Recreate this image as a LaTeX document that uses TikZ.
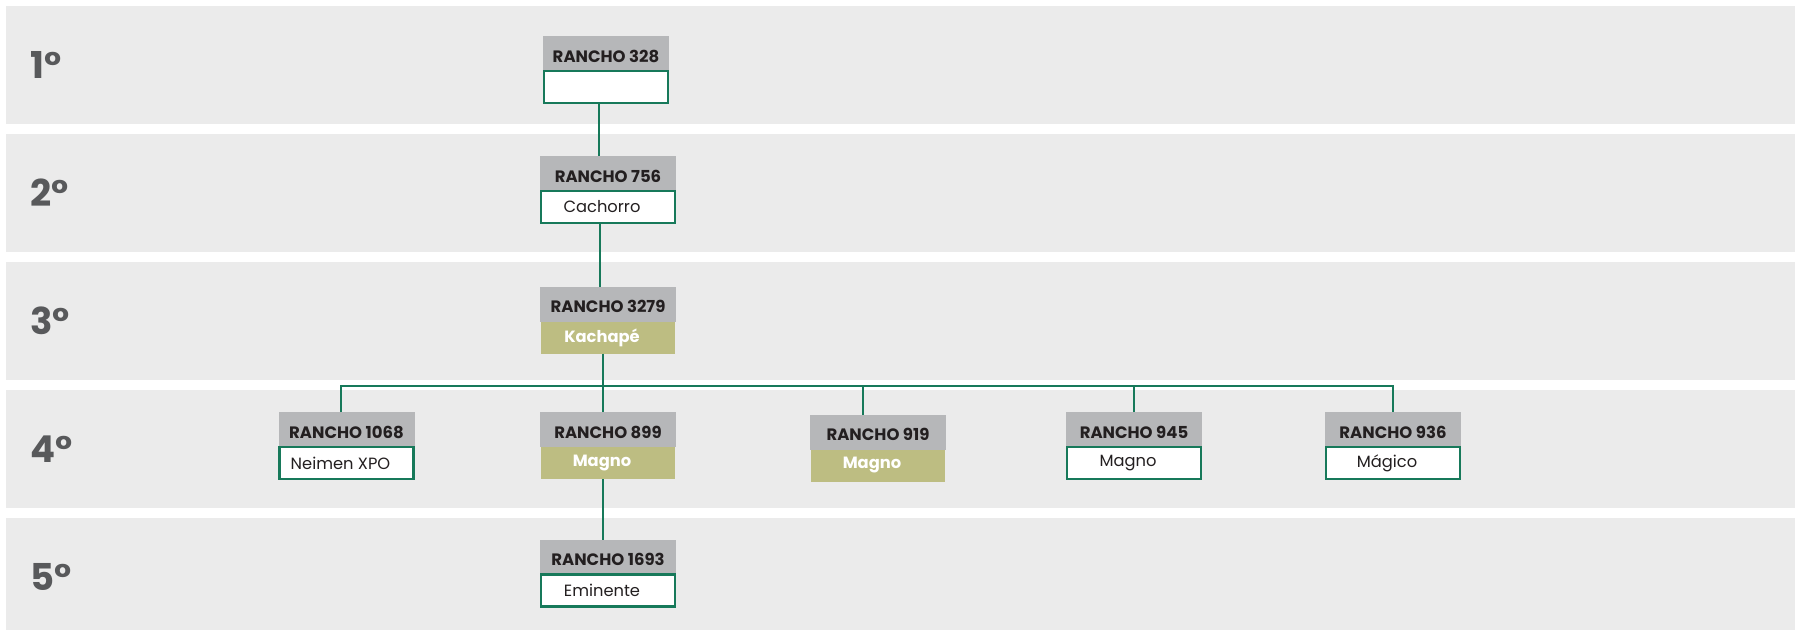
\documentclass[tikz,border=0pt]{standalone}
\usepackage{fontspec}
\setmainfont{Poppins}
\usetikzlibrary{positioning}
\definecolor{bandgray}{HTML}{EBEBEB}
\definecolor{headgray}{HTML}{B6B7B9}
\definecolor{olivefill}{HTML}{BDBD82}
\definecolor{linegreen}{HTML}{17795A}
\definecolor{darktext}{HTML}{231F20}
\definecolor{gradogray}{HTML}{58595B}

\begin{document}
\begin{tikzpicture}[x=1pt, y=-1pt,
		band/.style={fill=bandgray},
		grado/.style={anchor=west, inner sep=0pt, text=gradogray, font=\fontsize{37}{40}\selectfont\bfseries},
		rancho/.style={fill=headgray, minimum width=136pt, minimum height=35pt, inner sep=0pt, outer sep=0pt, text height=17.5pt, text depth=0pt, text=darktext, font=\fontsize{16.5}{18}\selectfont\bfseries},
		toro/.style={below=0pt of #1, draw=linegreen, line width=2.2pt, fill=white, minimum width=134pt, minimum height=32pt, inner sep=0pt, outer sep=0pt, text=darktext, font=\fontsize{16.3}{18}\selectfont, execute at begin node=\hspace*{-12pt}},
		toroalt/.style={toro=#1, draw=none, fill=olivefill, text=white, font=\fontsize{16.3}{18}\selectfont\bfseries},
		enlace/.style={draw=linegreen, line width=2.2pt}
		]
		
		\useasboundingbox (0,0) rectangle (1795,630);
		\foreach \t/\b in {6/124, 134/252, 262/380, 390/508, 518/630}
			\fill[band] (6,\t) rectangle (1795,\b);
		
		\node[grado] (g1) at (30,65) {1°};
		\node[grado] (g2) at (30,193) {2°};
		\node[grado] (g3) at (30,321) {3°};
		\node[grado] (g4) at (30,449) {4°};
		\node[grado] (g5) at (30,577) {5°};
		
		\node[rancho, minimum width=126pt] (h328) at (606,53.5) {RANCHO 328};
		\node[toro=h328, minimum width=124pt] (n328) {};
		
		\node[rancho] (h756) at (608,173.5) {RANCHO 756};
		\node[toro=h756] (n756) {Cachorro};
		
		\node[rancho] (h3279) at (608,304) {RANCHO 3279};
		\node[toroalt=h3279] (n3279) {Kachapé};
		
		\node[rancho] (h1068) at (346.5,429.5) {RANCHO 1068};
		\node[toro=h1068] (n1068) {Neimen XPO};
		
		\node[rancho] (h899) at (608,429.5) {RANCHO 899};
		\node[toroalt=h899] (n899) {Magno};
		
		\node[rancho] (h919) at (878,432) {RANCHO 919};
		\node[toroalt=h919] (n919) {Magno};
		
		\node[rancho] (h945) at (1134,429.5) {RANCHO 945};
		\node[toro=h945] (n945) {Magno};
		
		\node[rancho] (h936) at (1393,429.5) {RANCHO 936};
		\node[toro=h936] (n936) {Mágico};
		
		\node[rancho] (h1693) at (608,557) {RANCHO 1693};
		\node[toro=h1693] (n1693) {Eminente};
		
		\coordinate (bar) at (603,386);
		
		\draw[enlace] ([xshift=-7pt]n328.south) -- ([xshift=-7pt]n328.south |- h756.north);
		\draw[enlace] ([xshift=-8pt]n756.south) -- ([xshift=-8pt]n756.south |- h3279.north);
		\draw[enlace] (n3279.south -| bar) -- (bar);
		\draw[enlace] ([xshift=-5.5pt]h1068.north) |- (bar) -| (h936.north);
		\foreach \n/\d in {h899/-5, h919/-15, h945/0}
			\draw[enlace] ([xshift=\d pt]\n.north) -- ([xshift=\d pt]\n.north |- bar);
		\draw[enlace] ([xshift=-5pt]n899.south) -- ([xshift=-5pt]h1693.north);
		
	\end{tikzpicture}
\end{document}
